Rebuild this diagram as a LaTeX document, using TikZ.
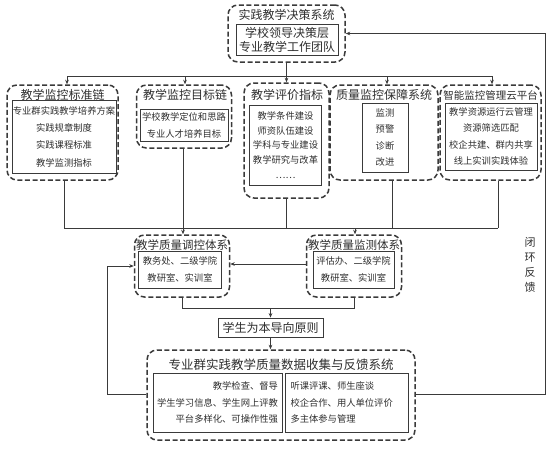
\documentclass[tikz,border=0pt]{standalone}
\usepackage{fontspec}
\setmainfont{Noto Sans CJK SC}
\usepackage{tikz}
\usetikzlibrary{arrows.meta,positioning,calc}
\definecolor{fbline}{HTML}{3A3A3A}
\definecolor{fbtext}{HTML}{2E2E2E}
\tikzset{
  sysbox/.style={draw=fbline, line width=1.5pt, dash pattern=on 5pt off 2.6pt, rounded corners=10pt, inner sep=0pt},
  listbox/.style={draw=fbline, line width=0.8pt, inner sep=0pt, align=center, text=fbtext},
  boxtitle/.style={text=fbtext, font=\fontsize{12}{14}\selectfont, inner sep=0pt},
  itemtext/.style={font=\fontsize{9.3}{#1}\selectfont},
  itemtext/.default=17,
  link/.style={draw=fbline, line width=0.7pt},
  flow/.style={link, -{Stealth[length=4.5pt,width=3.6pt]}}
}

\begin{document}
\begin{tikzpicture}[x=1pt,y=-1pt]
    \useasboundingbox (0,0) rectangle (554,448);
    % Decision system
    \node[sysbox, minimum width=117pt, minimum height=57pt] (decide) at (286.5,33.5) {};
    \node[boxtitle] (decideT) at (286.5,15) {实践教学决策系统};
    \node[listbox, font=\fontsize{12}{14}\selectfont, minimum width=102pt, minimum height=31pt] (decideL) at (287,39.5) {学校领导决策层\\专业教学工作团队};
    % Five monitoring chains
    \node[sysbox, minimum width=111pt, minimum height=95pt] (std) at (62.5,132.5) {};
    \node[boxtitle] (stdT) at (62.5,95) {教学监控标准链};
    \node[listbox, itemtext=17.3, minimum width=104pt, minimum height=73pt] (stdL) at (64,136.5) {专业群实践教学培养方案\\实践规章制度\\实践课程标准\\教学监测指标};
    \node[sysbox, minimum width=95pt, minimum height=63pt] (target) at (184,116.5) {};
    \node[boxtitle] (targetT) at (185,95) {教学监控目标链};
    \node[listbox, itemtext=17, minimum width=88pt, minimum height=32pt] (targetL) at (184,125) {学校教学定位和思路\\专业人才培养目标};
    \node[sysbox, minimum width=85pt, minimum height=115pt] (eval) at (286.5,140.5) {};
    \node[boxtitle] (evalT) at (287,95) {教学评价指标};
    \node[listbox, itemtext=14.8, minimum width=72pt, minimum height=80pt] (evalL) at (285.5,145) {教学条件建设\\师资队伍建设\\学科与专业建设\\教学研究与改革\\……};
    \node[sysbox, minimum width=108pt, minimum height=95pt] (guard) at (384,132.5) {};
    \node[boxtitle] (guardT) at (384,95) {质量监控保障系统};
    \node[listbox, itemtext=16.5, minimum width=46pt, minimum height=69pt] (guardL) at (385,137.5) {监测\\预警\\诊断\\改进};
    \node[sysbox, minimum width=101pt, minimum height=95pt] (cloud) at (490.5,132.5) {};
    \node[boxtitle, font=\fontsize{10.5}{12}\selectfont] (cloudT) at (490.5,95) {智能监控管理云平台};
    \node[listbox, itemtext=16.3, minimum width=92pt, minimum height=67pt] (cloudL) at (491,136.5) {教学资源运行云管理\\资源筛选匹配\\校企共建、群内共享\\线上实训实践体验};
    % Quality regulation and monitoring
    \node[sysbox, minimum width=95pt, minimum height=62pt] (ctrl) at (182,266) {};
    \node[boxtitle, font=\fontsize{11.5}{13}\selectfont] (ctrlT) at (182,245) {教学质量调控体系};
    \node[listbox, itemtext=17, minimum width=83pt, minimum height=37pt] (ctrlL) at (180,269.5) {教务处、二级学院\\教研室、实训室};
    \node[sysbox, minimum width=95pt, minimum height=62pt] (mon) at (354,266) {};
    \node[boxtitle, font=\fontsize{11.5}{13}\selectfont] (monT) at (354,245) {教学质量监测体系};
    \node[listbox, itemtext=17, minimum width=81pt, minimum height=37pt] (monL) at (353.5,269.5) {评估办、二级学院\\教研室、实训室};
    % Guiding principle
    \node[listbox, font=\fontsize{12}{14}\selectfont, minimum width=105pt, minimum height=19pt] (guide) at (270.5,327.5) {学生为本导向原则};
    % Data collection and feedback
    \node[sysbox, minimum width=268pt, minimum height=90pt] (feed) at (281,395) {};
    \node[boxtitle, font=\fontsize{12.5}{14}\selectfont] (feedT) at (281,365) {专业群实践教学质量数据收集与反馈系统};
    \node[listbox, itemtext=16.5, align=right, minimum width=129pt, minimum height=59pt] (feedL) at (217.5,402.5) {教学检查、督导\\学生学习信息、学生网上评教\\平台多样化、可操作性强};
    \node[listbox, itemtext=16.5, align=left, text width=112pt, minimum width=123pt, minimum height=59pt] (feedR) at (346.5,402.5) {听课评课、师生座谈\\校企合作、用人单位评价\\多主体参与管理};
    % Upper bus
    \coordinate (j1) at (67,76);
    \coordinate (j2) at (185,76);
    \coordinate (j4) at (387,76);
    \coordinate (j5) at (492,76);
    \draw[link] (j1) -- (j5);
    \draw[flow] (decide.south) -- (eval.north);
    \foreach \j/\b in {j1/std, j2/target, j4/guard, j5/cloud}
        \draw[flow] (\j) -- (\j |- \b.north);
    % Lower bus
    \coordinate (k1) at (64,228);
    \coordinate (k2) at (183,228);
    \coordinate (k3) at (286.5,228);
    \coordinate (k4) at (392,228);
    \coordinate (k5) at (498,228);
    \coordinate (k6) at (355,228);
    \draw[link] (k1) -- (k5);
    \foreach \k/\b in {k1/std, k2/target, k3/eval, k4/guard, k5/cloud}
        \draw[link] (\k |- \b.south) -- (\k);
    \draw[flow] (k2) -- (k2 |- ctrl.north);
    \draw[flow] (k6) -- (k6 |- mon.north);
    \draw[flow] ([yshift=2pt]mon.west) -- ([yshift=2pt]ctrl.east);
    % Towards the principle
    \coordinate (m) at (270.5,308);
    \draw[link] (ctrl.south) -- (ctrl.south |- m) -- (mon.south |- m) -- (mon.south);
    \draw[flow] (m) -- (guide.north);
    \draw[flow] (guide.south) -- (guide.south |- feed.north);
    % Closed loop feedback
    \coordinate (fbL) at (107,394);
    \coordinate (fbR) at (545,394);
    \draw[flow] (feed.west |- fbL) -- (fbL) -- (fbL |- ctrl.west) -- (ctrl.west);
    \draw[flow] (feed.east |- fbR) -- (fbR) -- (fbR |- decide.east) -- (decide.east);
    \node[text=fbtext, align=center, font=\fontsize{11}{15}\selectfont] (loopT) at (530,265) {闭\\环\\反\\馈};
\end{tikzpicture}
\end{document}
